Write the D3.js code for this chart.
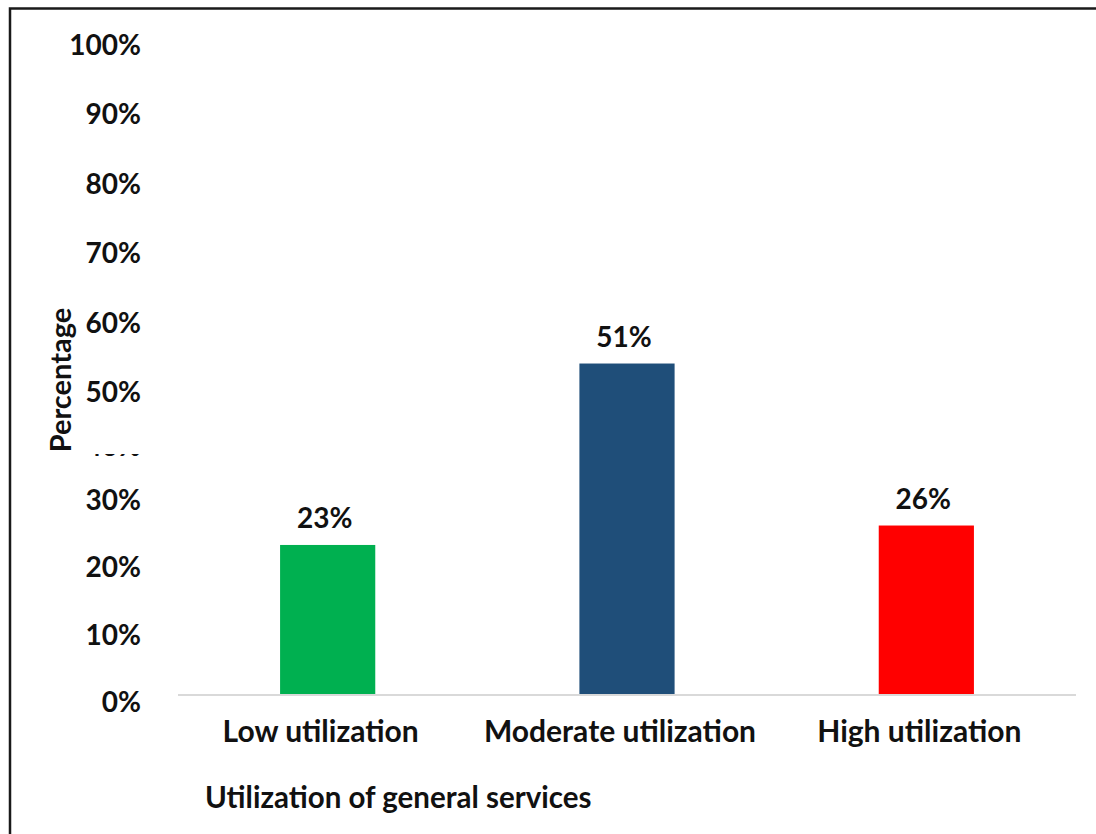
<!DOCTYPE html>
<html>
<head>
<meta charset="utf-8">
<script src="https://cdn.jsdelivr.net/npm/d3@7"></script>
<style>
  body { margin: 0; background: #fff; }
  text { font-family: Lato, "Open Sans", sans-serif; font-weight: bold; fill: #111; }
</style>
</head>
<body>
<div id="chart"></div>
<script>
// data
const categories = ["Low utilization", "Moderate utilization", "High utilization"];
const values = [23, 51, 26];
const barColors = ["#00b050", "#1f4e79", "#ff0000"];
const tickValues = [0, 10, 20, 30, 40, 50, 60, 70, 80, 90, 100];

const width = 1096,
  height = 834;

const svg = d3
  .select("#chart")
  .append("svg")
  .attr("width", width)
  .attr("height", height)
  .attr("viewBox", [0, 0, width, height]);

// outer frame (only left and top edges show)
svg
  .append("path")
  .attr("d", `M10,${height} L10,8.5 L${width},8.5`)
  .attr("fill", "none")
  .attr("stroke", "#1a1a1a")
  .attr("stroke-width", 2.5);

// scales
const xScale = d3.scaleBand(categories, [178, 1076]);
const yScale = d3.scaleLinear([0, 100], [694, 46]);
// tick labels in the picture sit on a slightly uneven ladder
const yLabel = d3.scaleLinear([0, 30, 50, 100], [702, 500, 392, 45]);

const barW = xScale.bandwidth() * 0.318;

// y tick labels
svg
  .append("g")
  .selectAll("text")
  .data(tickValues)
  .join("text")
  .attr("x", 141)
  .attr("y", (d) => yLabel(d))
  .attr("dy", "0.36em")
  .attr("text-anchor", "end")
  .style("font-size", "28px")
  .text((d) => d + "%");

// the axis title box hides most of the 40% label
svg
  .append("rect")
  .attr("x", 40)
  .attr("y", yLabel(40) - 24)
  .attr("width", 110)
  .attr("height", 32)
  .attr("fill", "#fff");

svg
  .append("text")
  .attr("transform", "translate(71,380) rotate(-90)")
  .attr("text-anchor", "middle")
  .style("font-size", "29px")
  .text("Percentage");

// bars
svg
  .append("g")
  .selectAll("rect")
  .data(values)
  .join("rect")
  .attr("x", (d, i) => xScale(categories[i]) + (xScale.bandwidth() - barW) / 2)
  .attr("y", (d) => yScale(d))
  .attr("width", barW)
  .attr("height", (d) => yScale(0) - yScale(d))
  .attr("fill", (d, i) => barColors[i]);

// baseline
svg
  .append("line")
  .attr("x1", 178)
  .attr("x2", 1076)
  .attr("y1", yScale(0) + 1)
  .attr("y2", yScale(0) + 1)
  .attr("stroke", "#d9d9d9")
  .attr("stroke-width", 2);

// value labels
svg
  .append("g")
  .selectAll("text")
  .data(values)
  .join("text")
  .attr("x", (d, i) => xScale(categories[i]) + xScale.bandwidth() / 2 - 3)
  .attr("y", (d) => yScale(d) - 17)
  .attr("text-anchor", "middle")
  .style("font-size", "28px")
  .text((d) => d + "%");

// category labels
svg
  .append("g")
  .selectAll("text")
  .data(categories)
  .join("text")
  .attr("x", (d) => xScale(d) + xScale.bandwidth() / 2 - 7)
  .attr("y", 742)
  .attr("text-anchor", "middle")
  .style("font-size", "30px")
  .text((d) => d);

// x axis title
svg
  .append("text")
  .attr("x", 205)
  .attr("y", 808)
  .style("font-size", "29.5px")
  .text("Utilization of general services");
</script>
</body>
</html>
